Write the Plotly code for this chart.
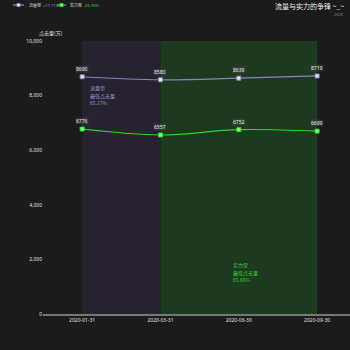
import plotly.graph_objects as go

categories = ["2020-01-31", "2020-03-31", "2020-06-30", "2020-09-30"]
liuliang = [8690, 8580, 8639, 8719]
shili = [6776, 6557, 6752, 6699]
y_ticks = [0, 2000, 4000, 6000, 8000, 10000]
series_names = ["流量型", "实力型"]
legend_pcts = ["+17.71%", "-66.99%"]
area_labels = [("流量型", "最低点击量", "65.17%"), ("实力型", "最低点击量", "65.66%")]

LAV = "#8c84c0"
LAV_T = "#9a92d4"
GRN = "#2fd42f"
xs = list(range(len(categories)))

W, H = 350, 350
ML, MR, MT, MB = 43, 0, 41, 36
PW, PH = W - ML - MR, H - MT - MB


def px(x):
    return (x - ML) / PW


def py(y):
    return (H - MB - y) / PH


fig = go.Figure()
fig.add_trace(go.Scatter(
    x=xs, y=liuliang, mode="lines+markers", name=series_names[0], showlegend=False,
    line=dict(color=LAV, width=1.2, shape="spline"),
    marker=dict(color="#ece8ff", size=4, symbol="square", line=dict(color=LAV, width=1))))
fig.add_trace(go.Scatter(
    x=xs, y=shili, mode="lines+markers", name=series_names[1], showlegend=False,
    line=dict(color=GRN, width=1.2, shape="spline"),
    marker=dict(color="#7dff7d", size=4, symbol="square", line=dict(color=GRN, width=1))))

# mark areas
fig.add_shape(type="rect", xref="x", yref="y", x0=0, x1=1, y0=0, y1=10000,
              fillcolor="#272230", line_width=0, layer="below")
fig.add_shape(type="rect", xref="x", yref="y", x0=1, x1=3, y0=0, y1=10000,
              fillcolor="#1d3920", line_width=0, layer="below")

ann = []
for vals in (liuliang, shili):
    for i, v in enumerate(vals):
        ann.append(dict(x=xs[i], y=v, xref="x", yref="y", text=str(v), showarrow=False,
                        yshift=8, font=dict(size=5, color="#e8e8e8", family="Noto Sans"),
                        bgcolor="rgba(70,70,70,0.45)", borderpad=0))
# area labels
for (name, l1, l2), xpos, ytop, col in ((area_labels[0], 0.08, 8500, LAV_T),
                                       (area_labels[1], 1.9, 2030, GRN)):
    ann.append(dict(x=xpos, y=ytop, xref="x", yref="y", xanchor="left", yanchor="top",
                    text=name, showarrow=False, align="left",
                    font=dict(size=5, color=col, family="Noto Sans CJK SC")))
    ann.append(dict(x=xpos, y=ytop - 290, xref="x", yref="y", xanchor="left", yanchor="top",
                    text=f"{l1}<br>{l2}", showarrow=False, align="left",
                    font=dict(size=5, color=col, family="Noto Sans CJK SC")))
# axis name
ann.append(dict(x=px(51), y=py(33), xref="paper", yref="paper", xanchor="center", yanchor="middle",
                text="点击量(万)", showarrow=False,
                font=dict(size=5, color="#e0e0e0", family="Noto Sans CJK SC")))
# title
ann.append(dict(x=px(346), y=py(6), xref="paper", yref="paper", xanchor="right", yanchor="middle",
                text="流量与实力的争锋 ~_~", showarrow=False,
                font=dict(size=7, color="#f0f0f0", family="Noto Sans CJK SC")))
ann.append(dict(x=px(346), y=py(15), xref="paper", yref="paper", xanchor="right", yanchor="middle",
                text="2020", showarrow=False,
                font=dict(size=4, color="#888888", family="Noto Sans")))

# manual legend
legend_items = [(13, 24, 27, 41, series_names[0], legend_pcts[0], LAV, "#ece8ff", LAV_T),
                (57, 66, 68, 82, series_names[1], legend_pcts[1], GRN, "#7dff7d", GRN)]
shapes = []
for x0, x1, xn, xp, name, pct, lc, mc, tc in legend_items:
    shapes.append(dict(type="line", xref="paper", yref="paper", x0=px(x0), x1=px(x1),
                       y0=py(5), y1=py(5), line=dict(color=lc, width=1.3)))
    xm = (x0 + x1) / 2
    shapes.append(dict(type="rect", xref="paper", yref="paper", x0=px(xm - 1.6), x1=px(xm + 1.6),
                       y0=py(6.6), y1=py(3.4), fillcolor=mc, line=dict(color=lc, width=0.8)))
    ann.append(dict(x=px(xn), y=py(5), xref="paper", yref="paper", xanchor="left",
                    yanchor="middle", text=name, showarrow=False,
                    font=dict(size=4, color="#e0e0e0", family="Noto Sans CJK SC")))
    ann.append(dict(x=px(xp), y=py(5), xref="paper", yref="paper", xanchor="left",
                    yanchor="middle", text=pct, showarrow=False,
                    font=dict(size=4, color=tc, family="Noto Sans")))

fig.update_layout(
    width=W, height=H,
    margin=dict(l=ML, r=MR, t=MT, b=MB),
    paper_bgcolor="#1b1b1b", plot_bgcolor="#1b1b1b",
    showlegend=False,
    annotations=ann,
    shapes=fig.layout.shapes + tuple(shapes),
    font=dict(family="Noto Sans", color="#e0e0e0"),
)
fig.update_xaxes(range=[-0.5, 3.42], tickmode="array", tickvals=xs, ticktext=categories,
                 showgrid=False, zeroline=False, showline=True, linecolor="#777777", linewidth=2,
                 ticks="", tickfont=dict(size=5, color="#e0e0e0"))
fig.update_yaxes(range=[0, 10000], tickmode="array", tickvals=y_ticks,
                 ticktext=[f"{v:,}" for v in y_ticks],
                 showgrid=False, zeroline=False, showline=False, ticks="",
                 tickfont=dict(size=5, color="#e0e0e0"))

fig.write_html("out.html")
